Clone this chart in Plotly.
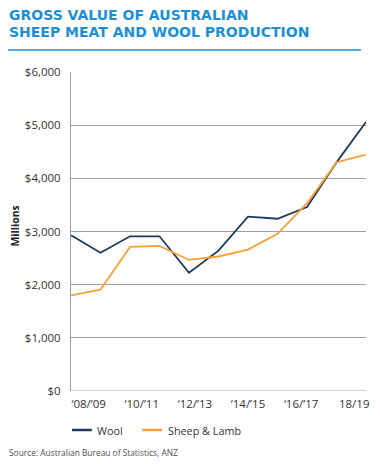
import plotly.graph_objects as go

# ---- data ----
years = ["2008/09", "2009/10", "2010/11", "2011/12", "2012/13", "2013/14",
         "2014/15", "2015/16", "2016/17", "2017/18", "2018/19"]
wool = [2930, 2600, 2910, 2910, 2225, 2640, 3280, 3240, 3460, 4300, 5060]
sheep_lamb = [1800, 1905, 2710, 2730, 2465, 2530, 2660, 2955, 3530, 4300, 4445]
tick_labels = ["\u201808/\u201909", "\u201810/\u201911", "\u201812/\u201913",
               "\u201814/\u201915", "\u201816/\u201917", "18/19"]
tick_positions = [0.6, 2.4, 4.2, 6.0, 7.8, 9.6]
y_ticks = [0, 1000, 2000, 3000, 4000, 5000, 6000]

# ---- layout geometry (page body has an 8px default margin) ----
OFF = 8
W, H = 380 - OFF, 464 - OFF
L, R, T, B = 71 - OFF, 19 - OFF, 72 - OFF, 81 - OFF
PW, PH = W - L - R, H - T - B

def px_x(px):
    return (px - OFF - L) / PW

def px_y(py):
    return (H - B - (py - OFF)) / PH

NAVY = "#1c3a5e"
ORANGE = "#f7a135"
BLUE = "#1b8fd8"
TXT = "#333333"
FONT = "Open Sans"

x_idx = list(range(len(years)))

fig = go.Figure()
fig.add_trace(go.Scatter(x=x_idx, y=wool, mode="lines", name="Wool",
                         line=dict(color=NAVY, width=1.8), showlegend=False,
                         customdata=years, hovertemplate="%{customdata}: $%{y:,}M<extra>Wool</extra>"))
fig.add_trace(go.Scatter(x=x_idx, y=sheep_lamb, mode="lines", name="Sheep & Lamb",
                         line=dict(color=ORANGE, width=1.8), showlegend=False,
                         customdata=years, hovertemplate="%{customdata}: $%{y:,}M<extra>Sheep & Lamb</extra>"))

fig.update_layout(
    width=W, height=H,
    margin=dict(l=L, r=R, t=T, b=B, pad=0),
    paper_bgcolor="white", plot_bgcolor="white",
    font=dict(family=FONT, size=11.5, color=TXT),
    xaxis=dict(range=[0, len(years) - 1], tickmode="array", tickvals=tick_positions,
               ticktext=tick_labels, showgrid=False, zeroline=False,
               showline=False, ticks="", ticklabelstandoff=4,
               tickfont=dict(size=11.5, color=TXT), fixedrange=True),
    yaxis=dict(range=[0, 6000], tickmode="array", tickvals=y_ticks,
               ticktext=["${:,}".format(v) for v in y_ticks],
               showgrid=True, gridcolor="#a0a0a0", gridwidth=1,
               zeroline=False, showline=True, linecolor="#a0a0a0", linewidth=1,
               ticks="", ticklabelstandoff=7,
               tickfont=dict(size=11.5, color=TXT), fixedrange=True),
    shapes=[
        # bottom axis line
        dict(type="line", xref="paper", yref="y", x0=0, x1=1, y0=0, y1=0,
             line=dict(color="#d6d6d6", width=2.5)),
        # rule under title
        dict(type="line", xref="paper", yref="paper", x0=px_x(7), x1=px_x(364),
             y0=px_y(50), y1=px_y(50), line=dict(color=BLUE, width=1.5)),
        # legend lines
        dict(type="line", xref="paper", yref="paper", x0=px_x(72), x1=px_x(92),
             y0=px_y(430), y1=px_y(430), line=dict(color=NAVY, width=2.5)),
        dict(type="line", xref="paper", yref="paper", x0=px_x(143), x1=px_x(163),
             y0=px_y(430), y1=px_y(430), line=dict(color=ORANGE, width=2.5)),
    ],
    annotations=[
        dict(text="GROSS VALUE OF AUSTRALIAN", xref="paper", yref="paper",
             x=px_x(6), y=px_y(15), xanchor="left", yanchor="middle", showarrow=False,
             font=dict(family="DejaVu Sans", size=14, color=BLUE, weight="bold")),
        dict(text="SHEEP MEAT AND WOOL PRODUCTION", xref="paper", yref="paper",
             x=px_x(6), y=px_y(32), xanchor="left", yanchor="middle", showarrow=False,
             font=dict(family="DejaVu Sans", size=14, color=BLUE, weight="bold")),
        dict(text="Millions", xref="paper", yref="paper", x=px_x(14), y=px_y(226),
             xanchor="center", yanchor="middle", textangle=-90, showarrow=False,
             font=dict(family=FONT, size=10.5, color="#222222", weight="bold")),
        dict(text="Wool", xref="paper", yref="paper", x=px_x(95), y=px_y(430),
             xanchor="left", yanchor="middle", showarrow=False,
             font=dict(family=FONT, size=10.8, color=TXT)),
        dict(text="Sheep &amp; Lamb", xref="paper", yref="paper", x=px_x(167), y=px_y(430),
             xanchor="left", yanchor="middle", showarrow=False,
             font=dict(family=FONT, size=10.8, color=TXT)),
        dict(text="Source: Australian Bureau of Statistics, ANZ", xref="paper", yref="paper",
             x=px_x(6), y=px_y(453), xanchor="left", yanchor="middle", showarrow=False,
             font=dict(family=FONT, size=8.4, color="#4d4d4d")),
    ],
)

fig.write_html("out.html")
